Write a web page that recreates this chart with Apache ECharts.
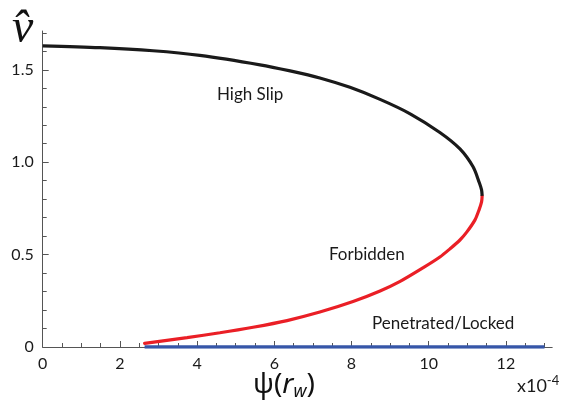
<!DOCTYPE html>
<html>
<head>
<meta charset="utf-8">
<script src="https://cdn.jsdelivr.net/npm/echarts@6/dist/echarts.min.js"></script>
<style>
  html, body { margin: 0; padding: 0; background: #fff; }
  #chart { width: 562px; height: 413px; }
</style>
</head>
<body>
<div id="chart"></div>
<script>
// upper branch (high slip); psi in units of 1e-4
var slipX = [0, 1.48, 2.86, 4.07, 5.63, 6.41, 7.18, 7.96, 8.74, 9.52, 10.29, 10.81, 11.15, 11.31, 11.37, 11.385];
var slipY = [1.630, 1.620, 1.603, 1.578, 1.527, 1.494, 1.456, 1.405, 1.340, 1.262, 1.161, 1.072, 0.975, 0.890, 0.850, 0.818];

// unstable middle branch (forbidden)
var forbidX = [11.385, 11.37, 11.31, 11.20, 10.99, 10.81, 10.55, 10.29, 9.85, 9.26, 8.74, 8.04, 7.18, 6.33, 5.45, 4.59, 3.74, 2.64];
var forbidY = [0.818, 0.785, 0.745, 0.688, 0.623, 0.579, 0.531, 0.487, 0.428, 0.355, 0.303, 0.246, 0.189, 0.143, 0.107, 0.077, 0.051, 0.020];

// locked branch along zero
var lockX = [2.64, 13];
var lockY = [0, 0];

var xLabels = [0, 2, 4, 6, 8, 10, 12];
var yLabels = [0, 0.5, 1.0, 1.5];

function pairs(xs, ys) {
  return xs.map(function (x, i) { return [x, ys[i]]; });
}

var axisColor = '#555';
var chart = echarts.init(document.getElementById('chart'), null, { renderer: 'canvas' });
chart.setOption({
  animation: false,
  grid: { left: 42.7, right: 9.8, top: 31, bottom: 66, containLabel: false },
  xAxis: {
    type: 'value',
    min: 0,
    max: 13.2,
    interval: 2,
    axisLine: { onZero: false, lineStyle: { color: axisColor, width: 1 } },
    axisTick: { inside: true, length: 6, customValues: xLabels, lineStyle: { color: axisColor } },
    minorTick: { show: true, splitNumber: 4, length: 4, lineStyle: { color: axisColor } },
    axisLabel: {
      customValues: xLabels,
      margin: 9,
      color: '#1a1a1a',
      fontFamily: 'Lato',
      fontSize: 16
    },
    splitLine: { show: false }
  },
  yAxis: {
    type: 'value',
    min: 0,
    max: 1.71,
    interval: 0.5,
    axisLine: { show: true, onZero: false, lineStyle: { color: axisColor, width: 1 } },
    axisTick: { show: true, inside: true, length: 6, customValues: yLabels, lineStyle: { color: axisColor } },
    minorTick: { show: true, splitNumber: 5, length: 4, lineStyle: { color: axisColor } },
    axisLabel: {
      customValues: yLabels,
      margin: 9,
      color: '#1a1a1a',
      fontFamily: 'Lato',
      fontSize: 16,
      formatter: function (v) { return v === 0 ? '0' : v.toFixed(1); }
    },
    splitLine: { show: false }
  },
  series: [
    {
      type: 'line',
      data: pairs(lockX, lockY),
      symbol: 'none',
      lineStyle: { color: '#3656a8', width: 3.5 },
      z: 3
    },
    {
      type: 'line',
      data: pairs(forbidX, forbidY),
      symbol: 'none',
      smooth: 0.3,
      lineStyle: { color: '#ea1f26', width: 3.2, cap: 'round' },
      z: 4
    },
    {
      type: 'line',
      data: pairs(slipX, slipY),
      symbol: 'none',
      smooth: 0.3,
      lineStyle: { color: '#1a1a1a', width: 3.2 },
      z: 5
    }
  ],
  graphic: [
    { type: 'text', left: 217, top: 86, style: { text: 'High Slip', font: '17px Lato', fill: '#1a1a1a' } },
    { type: 'text', left: 329, top: 246, style: { text: 'Forbidden', font: '17px Lato', fill: '#1a1a1a' } },
    { type: 'text', left: 372, top: 315, style: { text: 'Penetrated/Locked', font: '17px Lato', fill: '#1a1a1a' } },
    {
      type: 'text', left: 12, top: 5,
      style: { text: 'v\u0302', font: 'italic 48px "Liberation Serif"', fill: '#111' }
    },
    {
      type: 'text', left: 253, top: 371,
      style: {
        text: '{a|\u03c8(}{b|r}{c|w}{a|)}',
        rich: {
          a: { font: '28px "Noto Sans"', fill: '#111' },
          b: { font: 'italic 28px "Noto Sans"', fill: '#111' },
          c: { font: 'italic 18px "Noto Sans"', fill: '#111', padding: [13, 0, 0, 0] }
        }
      }
    },
    {
      type: 'text', left: 517, top: 374,
      style: {
        text: '{a|x10}{b|-4}',
        rich: {
          a: { font: '18px Lato', fill: '#1a1a1a' },
          b: { font: '13px Lato', fill: '#1a1a1a', padding: [0, 0, 11, 0] }
        }
      }
    }
  ]
});
</script>
</body>
</html>
